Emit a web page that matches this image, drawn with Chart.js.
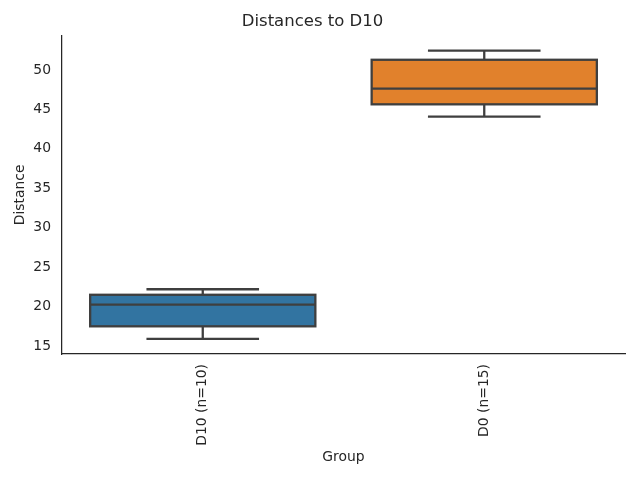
<!DOCTYPE html>
<html>
<head>
<meta charset="utf-8">
<script src="https://cdn.jsdelivr.net/npm/chart.js@4"></script>
<style>
  html, body { margin:0; padding:0; background:#fff; }
  #wrap { width:640px; height:480px; }
</style>
</head>
<body>
<div id="wrap"><canvas id="chartBox" width="640" height="480"></canvas></div>
<script>
// box statistics
const groups    = ['D10 (n=10)', 'D0 (n=15)'];
const whiskerLo = [15.9, 44.1];
const q1        = [17.5, 45.65];
const median    = [20.25, 47.65];
const q3        = [21.5, 51.3];
const whiskerHi = [22.2, 52.45];
const boxColors = ['#3274a1', '#e1812c'];
const yTicks    = [15, 20, 25, 30, 35, 40, 45, 50];

const lineGray = '#3f3f3f';
const textColor = '#262626';
const font = 'DejaVu Sans';

// box outline, whiskers, caps and medians, placed through the chart's scales
const boxExtras = {
  id: 'boxExtras',
  afterDatasetsDraw(chart) {
    const { ctx, scales: { x, y } } = chart;
    const meta = chart.getDatasetMeta(0);
    ctx.save();
    ctx.strokeStyle = lineGray;
    ctx.lineWidth = 2.3;
    ctx.lineCap = 'butt';
    groups.forEach((g, i) => {
      const cx = x.getPixelForValue(i);
      const bar = meta.data[i];
      const half = bar.width / 2;
      const capHalf = half / 2;
      const line = (x1, y1, x2, y2) => {
        ctx.beginPath(); ctx.moveTo(x1, y1); ctx.lineTo(x2, y2); ctx.stroke();
      };
      // box outline centred on the edges
      const yTop = y.getPixelForValue(q3[i]);
      const yBot = y.getPixelForValue(q1[i]);
      ctx.strokeRect(cx - half, yTop, half * 2, yBot - yTop);
      // whisker stems
      line(cx, yTop, cx, y.getPixelForValue(whiskerHi[i]));
      line(cx, yBot, cx, y.getPixelForValue(whiskerLo[i]));
      // caps
      line(cx - capHalf, y.getPixelForValue(whiskerHi[i]), cx + capHalf, y.getPixelForValue(whiskerHi[i]));
      line(cx - capHalf, y.getPixelForValue(whiskerLo[i]), cx + capHalf, y.getPixelForValue(whiskerLo[i]));
      // median
      line(cx - half, y.getPixelForValue(median[i]), cx + half, y.getPixelForValue(median[i]));
    });
    ctx.restore();
  }
};

new Chart(document.getElementById('chartBox'), {
  type: 'bar',
  data: {
    labels: groups,
    datasets: [{
      data: groups.map((g, i) => [q1[i], q3[i]]),
      backgroundColor: boxColors,
      borderWidth: 0,
      categoryPercentage: 0.8,
      barPercentage: 1.0
    }]
  },
  plugins: [boxExtras],
  options: {
    responsive: false,
    animation: false,
    devicePixelRatio: 1,
    layout: { padding: { left: 0, right: 15, top: 0, bottom: 0 } },
    plugins: {
      legend: { display: false },
      tooltip: { enabled: false },
      title: {
        display: true,
        text: 'Distances to D10',
        color: textColor,
        font: { family: font, size: 16.5, weight: 'normal' },
        padding: { top: 12, bottom: 4 }
      }
    },
    scales: {
      x: {
        grid: { display: false, drawTicks: false },
        border: { display: true, color: textColor, width: 1.25 },
        ticks: {
          color: textColor,
          font: { family: font, size: 13.9 },
          minRotation: 90, maxRotation: 90,
          padding: 10
        },
        title: {
          display: true, text: 'Group', color: textColor,
          font: { family: font, size: 13.9 },
          padding: { top: 0, bottom: 14 }
        },
        afterFit(scale) { scale.height = 126; }
      },
      y: {
        min: 13.99,
        max: 54.34,
        grid: { display: false, drawTicks: false },
        border: { display: true, color: textColor, width: 1.25 },
        ticks: {
          color: textColor,
          font: { family: font, size: 13.9 },
          padding: 11
        },
        afterBuildTicks(scale) { scale.ticks = yTicks.map(v => ({ value: v })); },
        title: {
          display: true, text: 'Distance', color: textColor,
          font: { family: font, size: 13.9 },
          padding: { top: 12.5, bottom: 0 }
        },
        afterFit(scale) { scale.width = 62; }
      }
    }
  }
});
</script>
</body>
</html>
